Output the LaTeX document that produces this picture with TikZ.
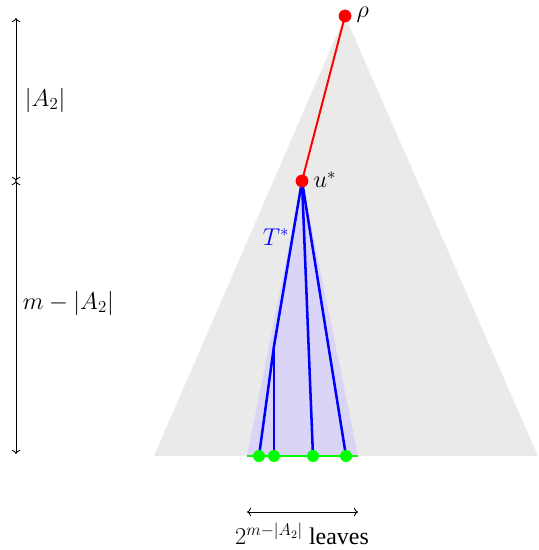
\documentclass[tikz,border=0pt]{standalone}
\usepackage{fontspec}
\setmainfont{Liberation Serif}
\usetikzlibrary{positioning, arrows.meta}
\definecolor{subcol}{RGB}{218, 213, 246}
\definecolor{treecol}{RGB}{234, 234, 234}

\begin{document}
\begin{tikzpicture}[x=0.025cm, y=-0.025cm, font=\fontsize{17}{20}\selectfont,
      tree/.style={fill=treecol},
      subtree/.style={fill=subcol},
      rootdot/.style={circle, fill=red, minimum size=0.32cm, inner sep=0pt},
      leafdot/.style={circle, fill=green, minimum size=0.3cm, inner sep=0pt},
      branch/.style={blue, line width=1.8pt},
      rootline/.style={red, line width=1.4pt},
      dim/.style={<->, line width=0.6pt}]
      \useasboundingbox (0,0) rectangle (538,550);

      % Points de l'arbre
      \coordinate (rho) at (345,16);
      \coordinate (ustar) at (302,181);
      \coordinate (bl) at (154,456);
      \coordinate (br) at (538,456);
      \coordinate (sl) at (247,456);
      \coordinate (sr) at (358,456);
      \coordinate (w) at (274,346);

      % Triangles
      \fill[tree] (rho) -- (bl) -- (br) -- cycle;
      \fill[subtree] (ustar) -- (sl) -- (sr) -- cycle;

      % Feuilles
      \coordinate (l1) at (259,456);
      \coordinate (l2) at (274,456);
      \coordinate (l3) at (313,456);
      \coordinate (l4) at (346,456);
      \draw[green, line width=1.4pt] (sl) -- (sr);

      % Branches
      \draw[branch] (ustar) -- (w) -- (l1);
      \draw[branch] (w) -- (l2);
      \draw[branch] (ustar) -- (l3);
      \draw[branch] (ustar) -- (l4);
      \draw[rootline] (rho) -- (ustar);

      \node[rootdot] (nrho) at (rho) {};
      \node[rootdot] (nu) at (ustar) {};
      \node[right=0pt of nrho, yshift=1pt] (lrho) {$\rho$};
      \node[right=0pt of nu, yshift=1pt] (lu) {$u^*$};
      \foreach \i in {1,...,4}
        \node[leafdot] (n\i) at (l\i) {};
      \node[blue] (lt) at (276,237) {$T^*$};

      % Cotes a gauche
      \coordinate (d0) at (16,18);
      \coordinate (d1) at (16,181);
      \coordinate (d2) at (16,454);
      \draw[dim] (d0) -- (d1);
      \draw[dim] (d1) -- (d2);
      \node[anchor=west] (la) at (20,100) {$|A_2|$};
      \node[anchor=west] (lb) at (18,303) {$m-|A_2|$};

      % Cote en bas
      \coordinate (e1) at (247,512);
      \coordinate (e2) at (358,512);
      \draw[dim] (e1) -- (e2);
      \node (ll) at (302,534) {$2^{m-|A_2|}$ leaves};
    \end{tikzpicture}
\end{document}
